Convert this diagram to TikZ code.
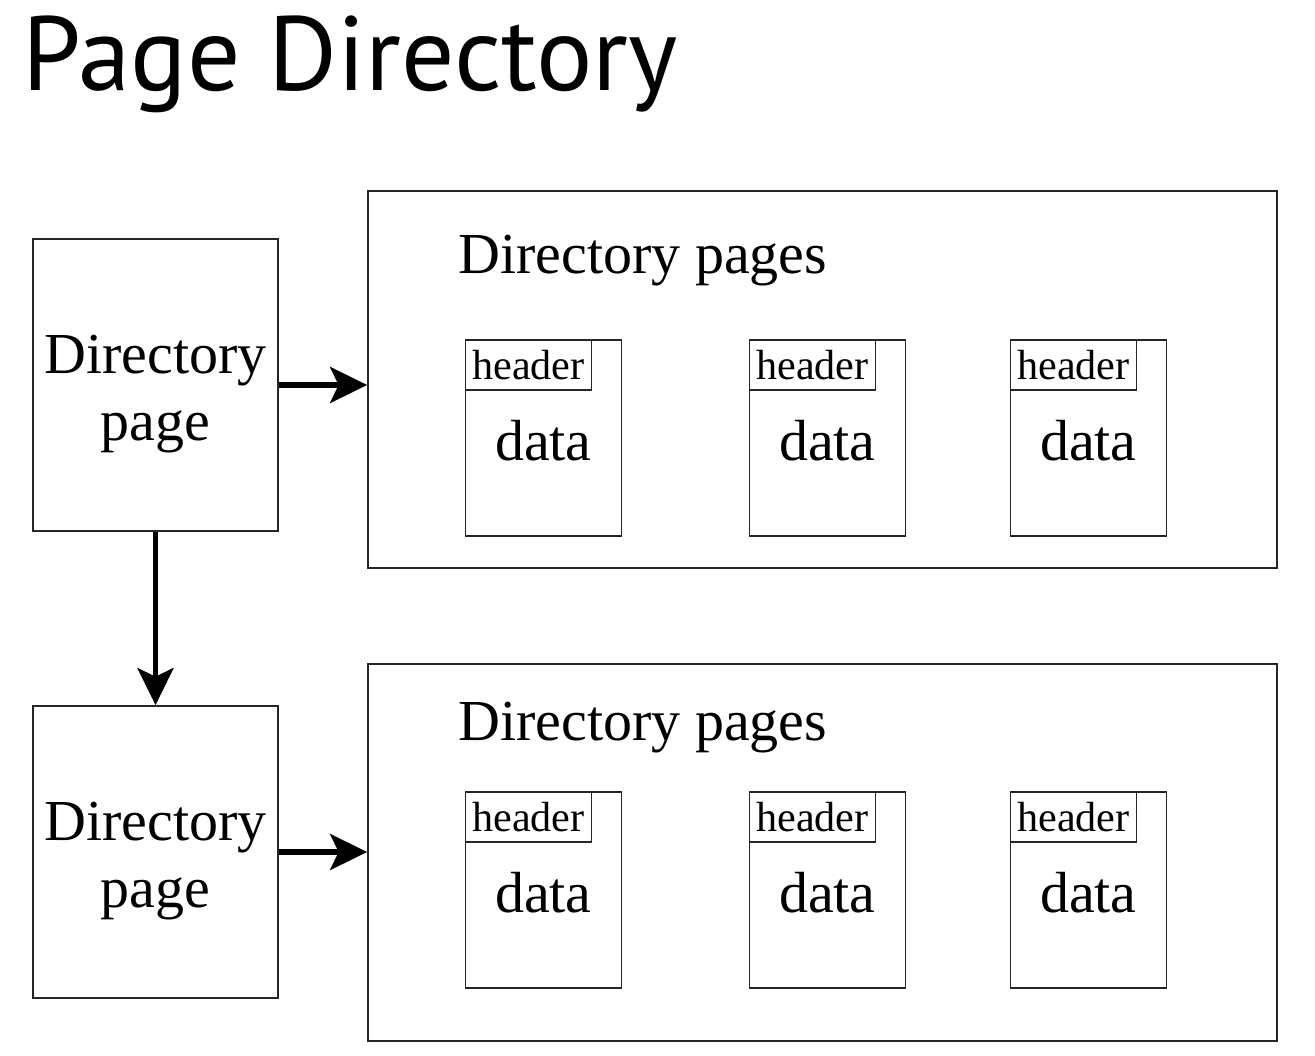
\documentclass[tikz,border=0pt]{standalone}
\usepackage{fontspec}
\setmainfont{Liberation Serif}
\newfontfamily\titlefont{PT Sans}
\usepackage{tikz}
\usetikzlibrary{arrows.meta,positioning}

\tikzset{
    dirpage/.style={draw=black!85, line width=1pt, minimum width=4.9cm, minimum height=5.84cm},
    dirtext/.style={align=center, inner sep=0pt, font=\fontsize{33}{38}\selectfont},
    group/.style={draw=black!85, line width=1pt, minimum width=18.18cm, minimum height=7.54cm},
    datapage/.style={draw=black!85, line width=1pt, minimum width=3.12cm, minimum height=3.92cm, anchor=north west},
    header/.style={draw=black!85, line width=1pt, minimum width=2.52cm, minimum height=1cm, anchor=north west,
        inner sep=0pt, font=\fontsize{24}{28}\selectfont},
    link/.style={line width=3pt, -{Stealth[length=0.74cm, width=0.72cm, inset=0.17cm]}}
}

\begin{document}
\begin{tikzpicture}
        \useasboundingbox (0,0) rectangle (26.3,-21.1);
        \node[anchor=base west, inner sep=0pt, font=\titlefont\fontsize{60}{64}\selectfont] (title) at (0.45,-1.8) {Page Directory};

        \node[dirpage] (D1) at (3.11,-7.70) {};
        \node[dirpage] (D2) at (3.11,-17.04) {};
        \node[dirtext] (D1t) at ([yshift=-0.18cm]D1.center) {Directory\\page};
        \node[dirtext] (D2t) at ([yshift=-0.18cm]D2.center) {Directory\\page};
        \node[group] (G1) at (16.45,-7.59) {};
        \node[group] (G2) at (16.45,-17.05) {};

        \node[anchor=base west, inner sep=0pt, font=\fontsize{33}{40}\selectfont] (L1) at (9.16,-5.46) {Directory pages};
        \node[anchor=base west, inner sep=0pt, font=\fontsize{33}{40}\selectfont] (L2) at (9.16,-14.80) {Directory pages};

        % data pages
        \foreach \row/\y in {1/-6.78, 2/-15.82} {
            \foreach \col/\x in {1/9.29, 2/14.97, 3/20.19} {
                \node[datapage] (P\row\col) at (\x,\y) {};
                \node[header] (H\row\col) at (P\row\col.north west) {header};
                \node[font=\fontsize{33}{40}\selectfont, anchor=base, inner sep=0pt] (T\row\col)
                    at ([yshift=-2.42cm]P\row\col.north) {data};
            }
        }

        \draw[link] (D1.east) -- (D1.east -| G1.west);
        \draw[link] (D2.east) -- (D2.east -| G2.west);
        \draw[link] (D1.south) -- (D2.north);
    \end{tikzpicture}
\end{document}
